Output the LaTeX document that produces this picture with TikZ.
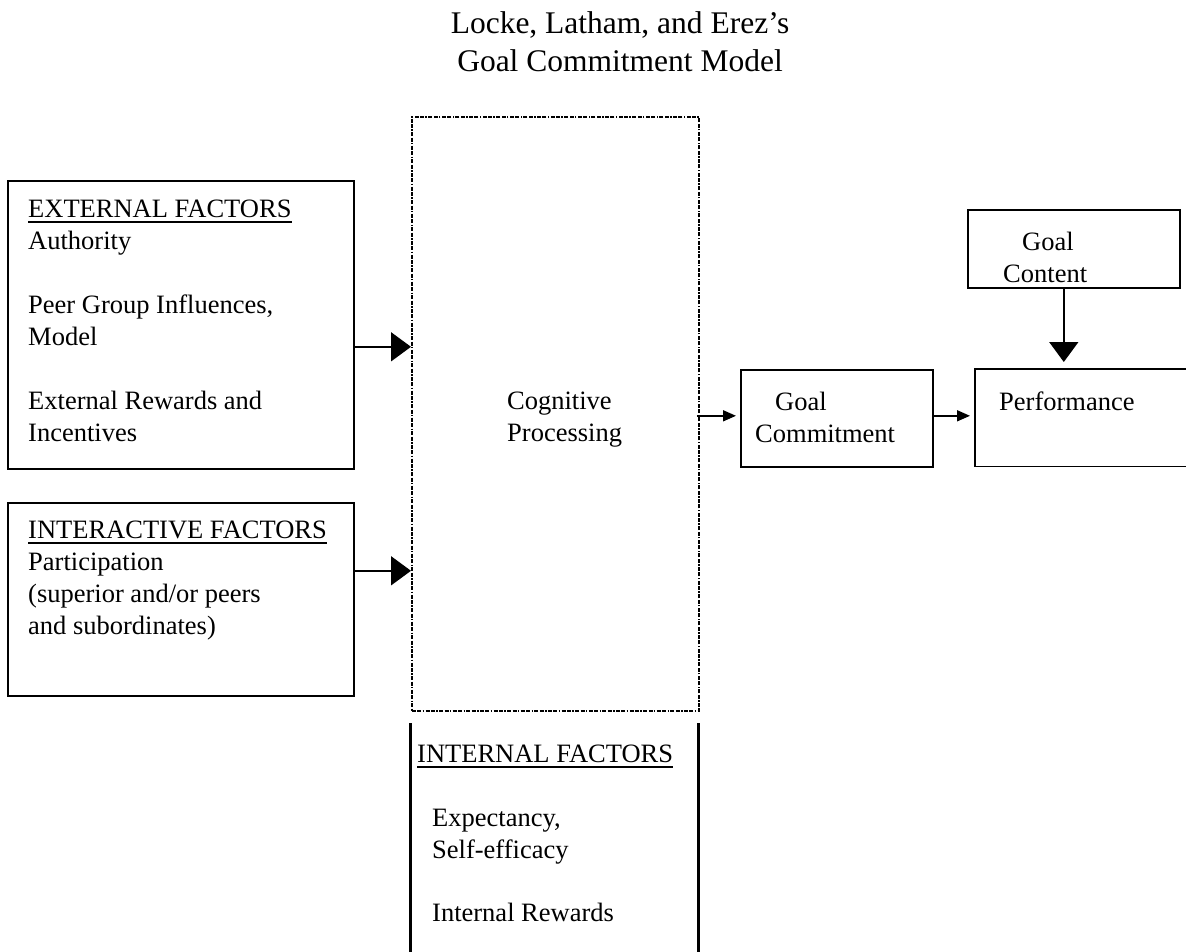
\documentclass[tikz,border=0pt]{standalone}
\usepackage{fontspec}
\setmainfont{Liberation Serif}
\usetikzlibrary{arrows.meta,calc}

\newcommand\diagbody{\fontsize{26.5pt}{32.1pt}\selectfont}
\newcommand\diagtitle{\fontsize{31.5pt}{38pt}\selectfont}
% heading underline: a 2pt rule a little below the baseline
\newcommand\headul[1]{\setbox0\hbox{#1}\rlap{\rule[-5.5pt]{\wd0}{1.9pt}}\box0}

\tikzset{
  box/.style={draw, line width=1.6pt, rectangle, inner sep=0pt, anchor=north west},
  frame/.style={rectangle, inner sep=0pt, anchor=north west},
  cogbox/.style={draw, line width=1.8pt, rectangle, inner sep=0pt, anchor=north west,
    dash pattern=on 4pt off 1.4pt on 4pt off 1.4pt on 1.4pt off 1.4pt},
  txt/.style={inner sep=0pt, anchor=base west, font=\diagbody},
  ttl/.style={inner sep=0pt, anchor=base, font=\diagtitle},
  conn/.style={line width=1.6pt},
  bighead/.style={-{Triangle[length=20pt,width=29pt]}},
  smallhead/.style={-{Triangle[length=13pt,width=11pt]}},
  side/.style={line width=3pt}
}

\begin{document}
\begin{tikzpicture}[x=1pt,y=-1pt]
\useasboundingbox (0,0) rectangle (1186,951);

% title
\node[ttl] (title1) at (620,33) {Locke, Latham, and Erez’s};
\node[ttl] (title2) at (620,71) {Goal Commitment Model};

% boxes
\node[box, minimum width=346pt, minimum height=288pt] (ext) at (7,180) {};
\node[box, minimum width=346pt, minimum height=193pt] (inter) at (7,502) {};
\node[cogbox, minimum width=287pt, minimum height=594pt] (cog) at (411,116) {};
\node[box, minimum width=192pt, minimum height=97pt] (gc) at (740,369) {};
\node[box, minimum width=212pt, minimum height=78pt] (content) at (967,209) {};
\node[frame, minimum width=213pt, minimum height=97pt] (perf) at (975,369) {};
\draw[line width=1.6pt] (perf.north east) -- (perf.north west) -- (perf.south west) -- (perf.south east);
\node[frame, minimum width=288pt, minimum height=230pt] (intl) at (410,723) {};
\draw[side] (intl.north west) -- (intl.south west);
\draw[side] (intl.north east) -- (intl.south east);

% external factors
\node[txt] (e1) at (28,217) {\headul{EXTERNAL FACTORS}};
\node[txt] (e2) at (28,249) {Authority};
\node[txt] (e3) at (28,313) {Peer Group Influences,};
\node[txt] (e4) at (28,345) {Model};
\node[txt] (e5) at (28,409) {External Rewards and};
\node[txt] (e6) at (28,441) {Incentives};

% interactive factors
\node[txt] (i1) at (28,538) {\headul{INTERACTIVE FACTORS}};
\node[txt] (i2) at (28,570) {Participation};
\node[txt] (i3) at (28,602) {(superior and/or peers};
\node[txt] (i4) at (28,634) {and subordinates)};

% cognitive processing
\node[txt] (c1) at (507,409) {Cognitive};
\node[txt] (c2) at (507,441) {Processing};

% goal commitment, performance, goal content
\node[txt] (g1) at (775,410) {Goal};
\node[txt] (g2) at (755,442) {Commitment};
\node[txt] (p1) at (999,410) {Performance};
\node[txt] (k1) at (1022,250) {Goal};
\node[txt] (k2) at (1003,282) {Content};

% internal factors
\node[txt] (n1) at (417,762) {\headul{INTERNAL FACTORS}};
\node[txt] (n2) at (432,826) {Expectancy,};
\node[txt] (n3) at (432,858) {Self-efficacy};
\node[txt] (n4) at (432,921) {Internal Rewards};

% connectors
\draw[conn, bighead] ([yshift=-22pt]ext.east) -- ([yshift=-22pt]ext.east -| cog.west);
\draw[conn, bighead] ([yshift=28.5pt]inter.east) -- ([yshift=28.5pt]inter.east -| cog.west);
\draw[conn, smallhead, shorten >=4pt] ([yshift=2.5pt,xshift=-3pt]cog.east |- gc.west) -- ([yshift=2.5pt]gc.west);
\draw[conn, smallhead, shorten >=5pt] ([yshift=2.5pt]gc.east) -- ([yshift=2.5pt]gc.east -| perf.west);
\draw[conn, bighead, shorten >=7pt] ([xshift=-10pt]content.south) -- ([xshift=-10pt]content.south |- perf.north);
\end{tikzpicture}
\end{document}
